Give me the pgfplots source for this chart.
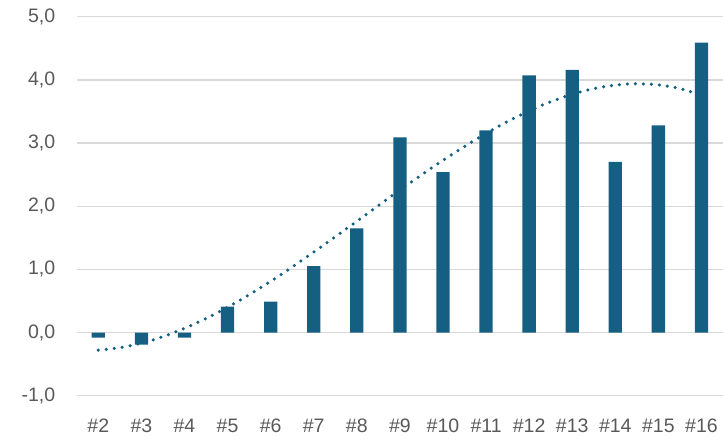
\documentclass[border=0pt]{standalone}
\usepackage{pgfplots}
\pgfplotsset{compat=1.18}
\usepackage{fontspec}
\setmainfont{Liberation Sans}
\definecolor{barblue}{HTML}{156082}
\definecolor{txtgray}{HTML}{595959}
\definecolor{gridgray}{HTML}{D9D9D9}

\begin{document}
\begin{tikzpicture}
\path[use as bounding box] (-76.8pt,-44.3pt) rectangle (646.2pt,395.7pt);
\begin{axis}[
	scale only axis,
	width=646.2pt, height=379pt,
	xmin=1.5, xmax=16.5,
	ymin=-1, ymax=5,
	axis line style={draw=none},
	tick style={draw=none},
	ytick={-1,0,...,5},
	xtick={2,...,16},
	xticklabels={\#2,\#3,\#4,\#5,\#6,\#7,\#8,\#9,\#10,\#11,\#12,\#13,\#14,\#15,\#16},
	ymajorgrids,
	grid style={gridgray, line width=1.4pt},
	font=\fontsize{19.5}{23}\selectfont,
	ticklabel style={text=txtgray},
	yticklabel style={xshift=-18pt},
	xticklabel style={yshift=-20pt},
	/pgf/number format/.cd, use comma, fixed, fixed zerofill, precision=1, assume math mode=true,
]
% bars
\addplot[ybar, bar width=13.3pt, fill=barblue, draw=none] coordinates {
	(2,-0.08) (3,-0.19) (4,-0.08) (5,0.41) (6,0.49) (7,1.05) (8,1.65)
	(9,3.09) (10,2.54) (11,3.20) (12,4.07) (13,4.16) (14,2.70) (15,3.28) (16,4.59)
};
% polynomial trendline
\addplot[barblue, line width=3.5pt, line cap=round, dash pattern=on 0pt off 8pt, smooth] coordinates {
	(2,-0.278) (2.5,-0.240) (3,-0.168) (3.5,-0.065) (4,0.067) (4.5,0.223)
	(5,0.401) (5.5,0.598) (6,0.811) (6.5,1.037) (7,1.273) (7.5,1.516)
	(8,1.762) (8.5,2.010) (9,2.255) (9.5,2.495) (10,2.726) (10.5,2.946)
	(11,3.152) (11.5,3.341) (12,3.509) (12.5,3.654) (13,3.772) (13.5,3.861)
	(14,3.918) (14.5,3.938) (15,3.921) (15.5,3.862) (16,3.758)
};
\end{axis}
\end{tikzpicture}
\end{document}
